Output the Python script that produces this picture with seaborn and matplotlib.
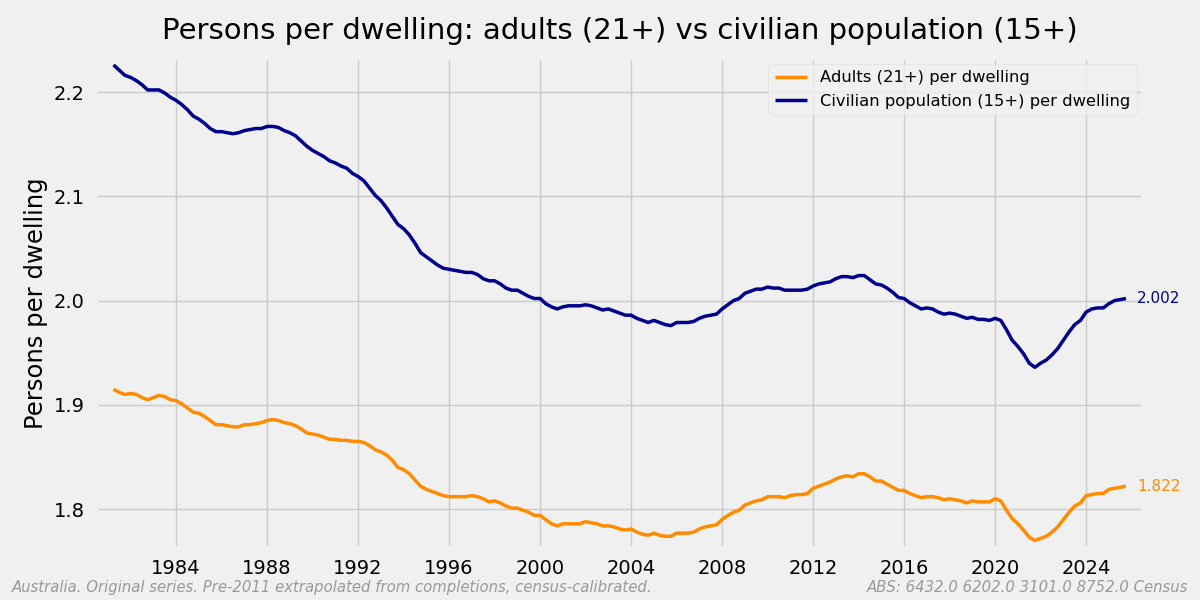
import numpy as np
import pandas as pd
import matplotlib
matplotlib.use("Agg")
import matplotlib.pyplot as plt
import seaborn as sns

# Quarterly values, Q2 1981 to Q4 2025
quarters = np.arange(1981.25, 2025.76, 0.25)

adults_21 = [
    1.915, 1.912, 1.910,
    1.911, 1.910, 1.907, 1.905,  # 1982
    1.907, 1.909, 1.908, 1.905,
    1.904, 1.901, 1.897, 1.893,  # 1984
    1.892, 1.889, 1.885, 1.881,
    1.881, 1.880, 1.879, 1.879,  # 1986
    1.881, 1.881, 1.882, 1.883,
    1.885, 1.886, 1.885, 1.883,  # 1988
    1.882, 1.880, 1.877, 1.873,
    1.872, 1.871, 1.869, 1.867,  # 1990
    1.867, 1.866, 1.866, 1.865,
    1.865, 1.864, 1.861, 1.857,  # 1992
    1.855, 1.852, 1.847, 1.840,
    1.838, 1.834, 1.828, 1.822,  # 1994
    1.819, 1.817, 1.815, 1.813,
    1.812, 1.812, 1.812, 1.812,  # 1996
    1.813, 1.812, 1.810, 1.807,
    1.808, 1.806, 1.803, 1.801,  # 1998
    1.801, 1.799, 1.797, 1.794,
    1.794, 1.790, 1.786, 1.784,  # 2000
    1.786, 1.786, 1.786, 1.786,
    1.788, 1.787, 1.786, 1.784,  # 2002
    1.784, 1.783, 1.781, 1.780,
    1.781, 1.778, 1.776, 1.775,  # 2004
    1.777, 1.775, 1.774, 1.774,
    1.777, 1.777, 1.777, 1.778,  # 2006
    1.781, 1.783, 1.784, 1.785,
    1.790, 1.794, 1.797, 1.799,  # 2008
    1.804, 1.806, 1.808, 1.809,
    1.812, 1.812, 1.812, 1.811,  # 2010
    1.813, 1.814, 1.814, 1.815,
    1.820, 1.822, 1.824, 1.826,  # 2012
    1.829, 1.831, 1.832, 1.831,
    1.834, 1.834, 1.831, 1.827,  # 2014
    1.827, 1.824, 1.821, 1.818,
    1.818, 1.815, 1.813, 1.811,  # 2016
    1.812, 1.812, 1.811, 1.809,
    1.810, 1.809, 1.808, 1.806,  # 2018
    1.808, 1.807, 1.807, 1.807,
    1.810, 1.808, 1.799, 1.791,  # 2020
    1.786, 1.780, 1.773, 1.770,
    1.772, 1.774, 1.778, 1.783,  # 2022
    1.790, 1.797, 1.803, 1.806,
    1.813, 1.814, 1.815, 1.815,  # 2024
    1.819, 1.820, 1.821, 1.822,
]

civilian_15 = [
    2.226, 2.221, 2.216,
    2.214, 2.211, 2.207, 2.202,  # 1982
    2.202, 2.202, 2.199, 2.195,
    2.192, 2.188, 2.183, 2.177,  # 1984
    2.174, 2.170, 2.165, 2.162,
    2.162, 2.161, 2.160, 2.161,  # 1986
    2.163, 2.164, 2.165, 2.165,
    2.167, 2.167, 2.166, 2.163,  # 1988
    2.161, 2.158, 2.153, 2.148,
    2.144, 2.141, 2.138, 2.134,  # 1990
    2.132, 2.129, 2.127, 2.122,
    2.119, 2.115, 2.108, 2.101,  # 1992
    2.096, 2.089, 2.081, 2.073,
    2.069, 2.063, 2.055, 2.046,  # 1994
    2.042, 2.038, 2.034, 2.031,
    2.030, 2.029, 2.028, 2.027,  # 1996
    2.027, 2.025, 2.021, 2.019,
    2.019, 2.016, 2.012, 2.010,  # 1998
    2.010, 2.007, 2.004, 2.002,
    2.002, 1.997, 1.994, 1.992,  # 2000
    1.994, 1.995, 1.995, 1.995,
    1.996, 1.995, 1.993, 1.991,  # 2002
    1.992, 1.990, 1.988, 1.986,
    1.986, 1.983, 1.981, 1.979,  # 2004
    1.981, 1.979, 1.977, 1.976,
    1.979, 1.979, 1.979, 1.980,  # 2006
    1.983, 1.985, 1.986, 1.987,
    1.992, 1.996, 2.000, 2.002,  # 2008
    2.007, 2.009, 2.011, 2.011,
    2.013, 2.012, 2.012, 2.010,  # 2010
    2.010, 2.010, 2.010, 2.011,
    2.014, 2.016, 2.017, 2.018,  # 2012
    2.021, 2.023, 2.023, 2.022,
    2.024, 2.024, 2.020, 2.016,  # 2014
    2.015, 2.012, 2.008, 2.003,
    2.002, 1.998, 1.995, 1.992,  # 2016
    1.993, 1.992, 1.989, 1.987,
    1.988, 1.987, 1.985, 1.983,  # 2018
    1.984, 1.982, 1.982, 1.981,
    1.983, 1.981, 1.972, 1.962,  # 2020
    1.956, 1.949, 1.940, 1.936,
    1.940, 1.943, 1.948, 1.954,  # 2022
    1.962, 1.970, 1.977, 1.981,
    1.989, 1.992, 1.993, 1.993,  # 2024
    1.997, 2.000, 2.001, 2.002,
]

series_labels = ['Adults (21+) per dwelling', 'Civilian population (15+) per dwelling']
series_colors = ['darkorange', 'darkblue']
year_ticks = [1984, 1988, 1992, 1996, 2000, 2004, 2008, 2012, 2016, 2020, 2024]
value_ticks = [1.8, 1.9, 2.0, 2.1, 2.2]

df = pd.DataFrame({
    'quarter': np.concatenate([quarters, quarters]),
    'value': adults_21 + civilian_15,
    'series': [series_labels[0]] * len(quarters) + [series_labels[1]] * len(quarters),
})

plt.style.use('fivethirtyeight')
fig = plt.figure(figsize=(12, 6), dpi=100)
ax = fig.add_axes([0.08, 0.0867, 0.8725, 0.8166])

sns.lineplot(data=df, x='quarter', y='value', hue='series',
             palette=dict(zip(series_labels, series_colors)),
             linewidth=2.5, ax=ax)

# end-of-series value labels
for vals, col in zip([adults_21, civilian_15], series_colors):
    ax.text(quarters[-1] + 0.5, vals[-1], f"{vals[-1]:.3f}", color=col,
            fontsize=11, va='center', ha='left')

ax.set_xlim(1980.48, 2026.5)
ax.set_ylim(1.7628, 2.2326)
ax.set_xticks(year_ticks)
ax.set_yticks(value_ticks)
ax.tick_params(axis='both', labelsize=14, pad=8)
ax.set_xlabel('')
ax.set_ylabel('Persons per dwelling', fontsize=17.5)
ax.set_title('Persons per dwelling: adults (21+) vs civilian population (15+)',
             fontsize=21, pad=14)

handles, labels = ax.get_legend_handles_labels()
ax.legend(handles, labels, loc='upper right', fontsize=11.8, frameon=True,
          facecolor='#f0f0f0', edgecolor='#dddddd', framealpha=0.8,
          bbox_to_anchor=(1.0, 1.0), borderaxespad=0.35)

fig.text(0.01, 0.008, 'Australia. Original series. Pre-2011 extrapolated from completions, census-calibrated.',
         fontsize=10.7, style='italic', color='#999999', ha='left', va='bottom')
fig.text(0.99, 0.008, 'ABS: 6432.0 6202.0 3101.0 8752.0 Census',
         fontsize=10.7, style='italic', color='#999999', ha='right', va='bottom')

fig.savefig('out.png', dpi=100, facecolor=fig.get_facecolor())
